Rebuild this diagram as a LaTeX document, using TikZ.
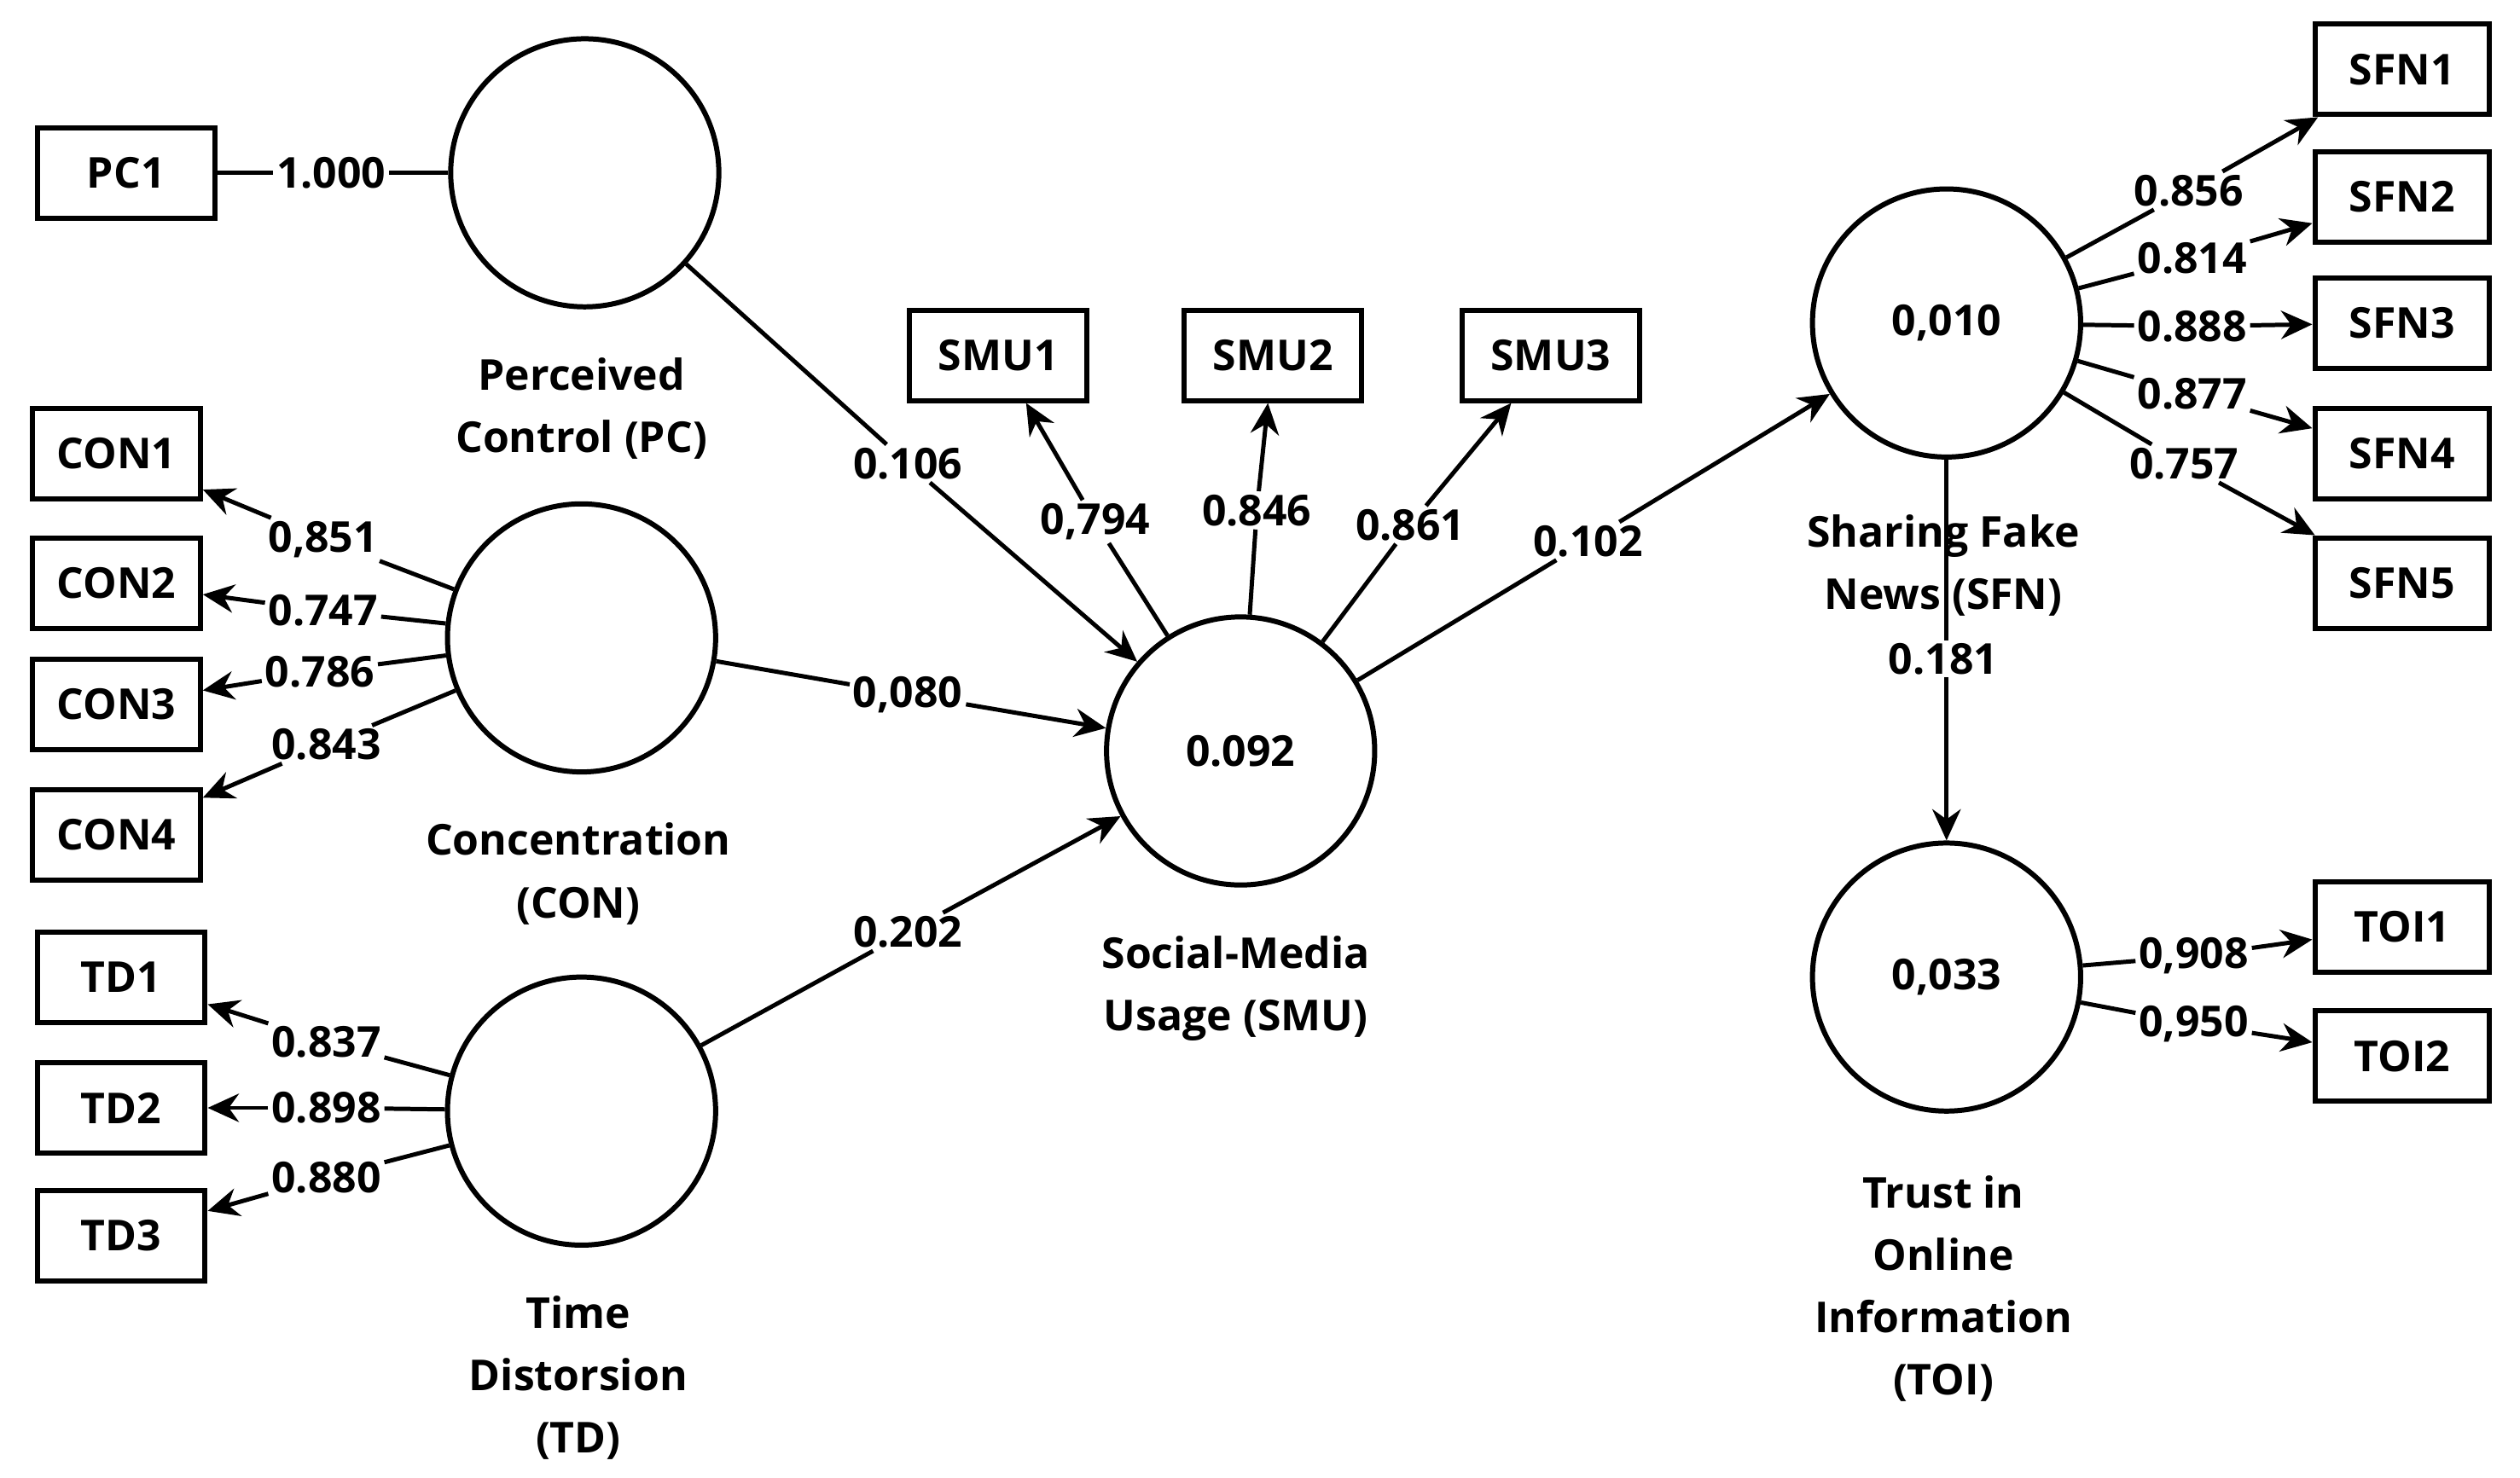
\documentclass[tikz,border=0pt]{standalone}
\usepackage{fontspec}
\setmainfont{Open Sans}
\usetikzlibrary{arrows.meta}
\begin{document}
\begin{tikzpicture}[x=0.02cm,y=-0.02cm,
  every node/.style={font=\bfseries\fontsize{15}{22}\selectfont},
  lat/.style={circle,draw,line width=1.8pt,minimum size=166*0.02cm,inner sep=0pt},
  box/.style={draw,line width=1.8pt,minimum width=104*0.02cm,minimum height=56*0.02cm,inner sep=0pt},
  lab/.style={inner sep=1pt,fill=white},
  ln/.style={line width=1.5pt},
  ar/.style={line width=1.5pt,-{Stealth[length=11pt,width=10pt]}},
  vname/.style={align=center}]
\useasboundingbox (0,0) rectangle (1560,915);
% latent variables
\node[lat] (PC) at (362,107) {};
\node[lat] (CON) at (360,395) {};
\node[lat] (TD) at (360,688) {};
\node[lat] (SMU) at (768,465) {0.092};
\node[lat] (SFN) at (1205,200) {0,010};
\node[lat] (TOI) at (1205,605) {0,033};
% structural SFN -> TOI (behind labels)
\draw[ar] (SFN) -- (TOI);
\node[vname] (nPC) at (360,253) {Perceived\\Control (PC)};
\node[vname] (nCON) at (358,541) {Concentration\\(CON)};
\node[vname] (nTD) at (358,853) {Time\\Distorsion\\(TD)};
\node[vname] (nSMU) at (765,612) {Social-Media\\Usage (SMU)};
\node[vname] (nSFN) at (1203,350) {Sharing Fake\\News (SFN)};
\node[vname] (nTOI) at (1203,798) {Trust in\\Online\\Information\\(TOI)};
% indicators
\node[box,minimum width=110*0.02cm] (PC1) at (78,107) {PC1};
\node[box] (CON1) at (72,281) {CON1};
\node[box] (CON2) at (72,361) {CON2};
\node[box] (CON3) at (72,436) {CON3};
\node[box] (CON4) at (72,517) {CON4};
\node[box] (TD1) at (75,605) {TD1};
\node[box] (TD2) at (75,686) {TD2};
\node[box] (TD3) at (75,765) {TD3};
\node[box,minimum width=110*0.02cm] (SMU1) at (618,220) {SMU1};
\node[box,minimum width=110*0.02cm] (SMU2) at (788,220) {SMU2};
\node[box,minimum width=110*0.02cm] (SMU3) at (960,220) {SMU3};
\node[box,minimum width=108*0.02cm] (SFN1) at (1487,43) {SFN1};
\node[box,minimum width=108*0.02cm] (SFN2) at (1487,122) {SFN2};
\node[box,minimum width=108*0.02cm] (SFN3) at (1487,200) {SFN3};
\node[box,minimum width=108*0.02cm] (SFN4) at (1487,281) {SFN4};
\node[box,minimum width=108*0.02cm] (SFN5) at (1487,361) {SFN5};
\node[box,minimum width=108*0.02cm] (TOI1) at (1487,574) {TOI1};
\node[box,minimum width=108*0.02cm] (TOI2) at (1487,654) {TOI2};
% loading labels
\node[lab] (lPC1) at (205,107) {1.000};
\node[lab] (lC1) at (200,334) {0,851};
\node[lab] (lC2) at (200,378) {0.747};
\node[lab] (lC3) at (198,416) {0.786};
\node[lab] (lC4) at (202,461) {0.843};
\node[lab] (lT1) at (202,645) {0.837};
\node[lab] (lT2) at (202,686) {0.898};
\node[lab] (lT3) at (202,729) {0.880};
\node[lab] (lS1) at (678,323) {0,794};
\node[lab] (lS2) at (778,316) {0.846};
\node[lab] (lS3) at (873,325) {0.861};
\node[lab] (lF1) at (1355,118) {0.856};
\node[lab] (lF2) at (1357,160) {0.814};
\node[lab] (lF3) at (1357,202) {0.888};
\node[lab] (lF4) at (1357,244) {0.877};
\node[lab] (lF5) at (1352,287) {0.757};
\node[lab] (lO1) at (1358,592) {0,908};
\node[lab] (lO2) at (1358,634) {0,950};
% path labels
\node[lab] (p1) at (562,287) {0.106};
\node[lab] (p2) at (562,430) {0,080};
\node[lab] (p3) at (562,577) {0.202};
\node[lab] (p4) at (983,335) {0.102};
\node[lab] (p5) at (1203,408) {0.181};
% loadings
\draw[ln] (PC1) -- (lPC1); \draw[ln] (lPC1) -- (PC);
\foreach \l/\b in {lC1/CON1,lC2/CON2,lC3/CON3,lC4/CON4}{
  \draw[ln] (CON) -- (\l); \draw[ar] (\l) -- (\b);}
\foreach \l/\b in {lT1/TD1,lT2/TD2,lT3/TD3}{
  \draw[ln] (TD) -- (\l); \draw[ar] (\l) -- (\b);}
\foreach \l/\b in {lS1/SMU1,lS2/SMU2,lS3/SMU3}{
  \draw[ln] (SMU) -- (\l); \draw[ar] (\l) -- (\b);}
\foreach \l/\b in {lF1/SFN1,lF2/SFN2,lF3/SFN3,lF4/SFN4,lF5/SFN5}{
  \draw[ln] (SFN) -- (\l); \draw[ar] (\l) -- (\b);}
\foreach \l/\b in {lO1/TOI1,lO2/TOI2}{
  \draw[ln] (TOI) -- (\l); \draw[ar] (\l) -- (\b);}
% structural paths
\draw[ln] (PC) -- (p1); \draw[ar] (p1) -- (SMU);
\draw[ln] (CON) -- (p2); \draw[ar] (p2) -- (SMU);
\draw[ln] (TD) -- (p3); \draw[ar] (p3) -- (SMU);
\draw[ln] (SMU) -- (p4); \draw[ar] (p4) -- (SFN);
\end{tikzpicture}
\end{document}
